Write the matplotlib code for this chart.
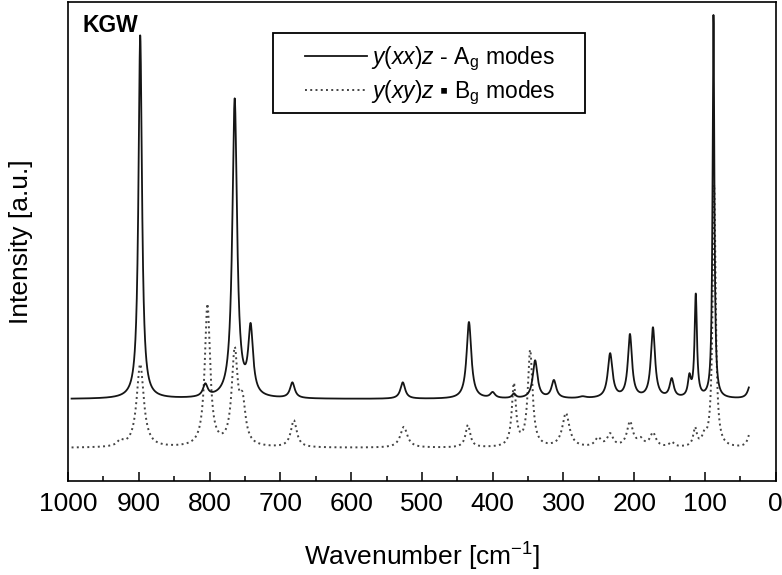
##########################################################
# Housekeeping
##########################################################

import numpy as np
import matplotlib
matplotlib.use('Agg')
import matplotlib.pyplot as plt
from matplotlib.patches import Rectangle
from matplotlib.ticker import MultipleLocator

plt.rcParams['font.family'] = ['Liberation Sans', 'DejaVu Sans']
plt.rcParams['mathtext.fontset'] = 'custom'
plt.rcParams['mathtext.rm'] = 'Liberation Sans'
plt.rcParams['mathtext.it'] = 'Liberation Sans:italic'

##########################################################
# Data
##########################################################

# Ag modes, y(xx)z: peak positions [cm-1], heights above baseline, half widths
ag_pos = [898, 806, 764.5, 742, 683, 527, 433.5, 400, 370, 340, 313.5, 273,
          234, 206, 173.5, 147, 122, 113, 88, 36]
ag_height = [76.0, 3.3, 62.8, 15.9, 3.5, 3.5, 16.1, 1.5, 1.2, 8.1, 4.0, 0.6,
             9.6, 13.6, 15.0, 4.4, 5.4, 22.1, 80.2, 3.0]
ag_hwhm = [3, 4, 4, 4, 4, 4, 4, 4, 3, 4, 4, 6,
           4, 3.5, 3.5, 3.5, 2.5, 2, 1.5, 4]
ag_offset = 17.1

# Bg modes, y(xy)z
bg_pos = [926, 898, 803, 764.5, 753.5, 681, 525.5, 435, 370, 347, 296.5, 251,
          234, 206, 191, 173.5, 147, 114, 101, 87, 36]
bg_height = [1.9, 17.5, 30.1, 21.1, 11.7, 5.8, 4.4, 4.8, 13.6, 20.5, 7.3, 2.3,
             3.1, 5.6, 2.3, 3.3, 1.3, 4.4, 3.8, 55.0, 3.3]
bg_hwhm = [5, 6, 4.5, 5, 5, 5, 6, 4, 3.5, 4, 6, 5,
           5, 5, 5, 5, 4, 3, 3.5, 2.5, 4]
bg_offset = 6.9

# Recorded range
wn_start, wn_end = 995, 38

legendlabs = [r'$\it{y(xx)z}$ - A$_\mathrm{g}$ modes',
              '$\\it{y(xy)z}$ \u25aa B$_\\mathrm{g}$ modes']
xlab = r'Wavenumber [cm$^{-1}$]'
ylab = 'Intensity [a.u.]'

##########################################################
# Build spectra from the peak tables
##########################################################

def lorentz(x, x0, g):
    return g**2 / ((x - x0)**2 + g**2)

def spectrum(x, pos, height, hwhm, offset):
    pos, height, hwhm = map(np.asarray, (pos, height, hwhm))
    # amplitudes so that the summed curve reaches the read peak heights
    M = lorentz(pos[:, None], pos[None, :], hwhm[None, :])
    amp = np.linalg.solve(M, height)
    return offset + (amp * lorentz(x[:, None], pos, hwhm)).sum(axis=1)

wn = np.linspace(wn_start, wn_end, 4000)
ag = spectrum(wn, ag_pos, ag_height, ag_hwhm, ag_offset)
bg = spectrum(wn, bg_pos, bg_height, bg_hwhm, bg_offset)

##########################################################
# Plot
##########################################################

fig = plt.figure(figsize=(7.82, 5.75), dpi=100)
ax = fig.add_axes([0.087, 0.1635, 0.905, 0.833])

l2, = ax.plot(wn, bg, color='#444444', lw=1.4, ls=(0, (1, 1.7)))
l1, = ax.plot(wn, ag, color='#151515', lw=1.3)

ax.set_xlim(1000, 0)
ax.set_ylim(0, 100)
ax.xaxis.set_major_locator(MultipleLocator(100))
ax.xaxis.set_minor_locator(MultipleLocator(50))
ax.set_yticks([])
ax.tick_params(axis='x', which='both', direction='in', top=False,
               width=1.1, labelsize=19, pad=8)
ax.tick_params(axis='x', which='major', length=6.5)
ax.tick_params(axis='x', which='minor', length=3.6)
for s in ax.spines.values():
    s.set_linewidth(1.2)

ax.set_xlabel(xlab, fontsize=19)
ax.xaxis.set_label_coords(0.5, -0.125)
ax.set_ylabel(ylab, fontsize=19)
ax.yaxis.set_label_coords(-0.05, 0.5)

ax.text(0.021, 0.974, 'KGW', transform=ax.transAxes, fontsize=16.5,
        fontweight='bold', va='top', ha='left')

# Legend frame and entries
ax.add_patch(Rectangle((0.290, 0.768), 0.4405, 0.167, transform=ax.transAxes,
                       fill=False, lw=1.3, ec='black', zorder=5))
ax.legend([l1, l2], legendlabs, loc='upper left', bbox_to_anchor=(0.335, 0.912),
          frameon=False, fontsize=16.5, handlelength=2.7, handletextpad=0.18,
          labelspacing=0.28, borderpad=0, borderaxespad=0)

fig.savefig('out.png', dpi=100)
